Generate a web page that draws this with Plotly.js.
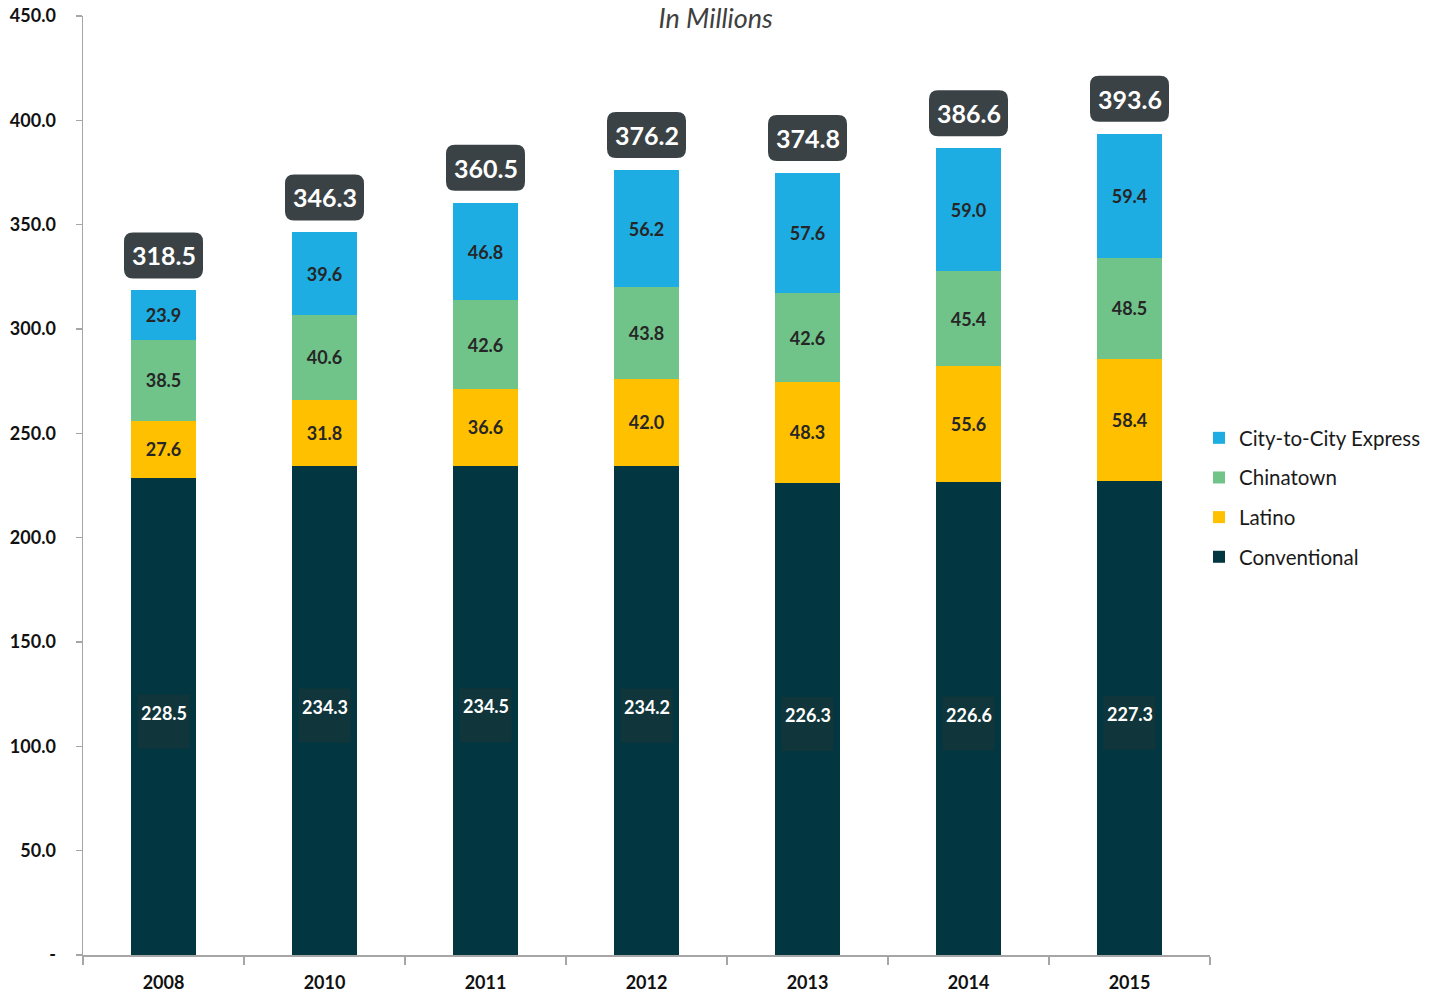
<!DOCTYPE html>
<html>
<head>
<meta charset="utf-8">
<script src="https://cdn.plot.ly/plotly-3.0.1.min.js"></script>
<style>html,body{margin:0;padding:0;background:#fff;}#chart{width:1440px;height:993px;}</style>
</head>
<body>
<div id="chart"></div>
<script>
const years = ['2008', '2010', '2011', '2012', '2013', '2014', '2015'];
const conventional = [228.5, 234.3, 234.5, 234.2, 226.3, 226.6, 227.3];
const latino = [27.6, 31.8, 36.6, 42.0, 48.3, 55.6, 58.4];
const chinatown = [38.5, 40.6, 42.6, 43.8, 42.6, 45.4, 48.5];
const cityToCity = [23.9, 39.6, 46.8, 56.2, 57.6, 59.0, 59.4];
const totals = [318.5, 346.3, 360.5, 376.2, 374.8, 386.6, 393.6];
const yTickVals = [0, 50, 100, 150, 200, 250, 300, 350, 400, 450];
const yTickText = ['-', '50.0', '100.0', '150.0', '200.0', '250.0', '300.0', '350.0', '400.0', '450.0'];

const FONT = 'Lato, "Open Sans", sans-serif';
const segFont = {family: FONT, size: 18, color: '#262626', weight: 'bold'};

function seg(name, vals, color, showText, rank) {
  return {
    type: 'bar', name: name, x: years, y: vals, legendgroup: name, legendrank: rank,
    marker: {color: color, line: {width: 0}},
    text: showText ? vals.map(v => v.toFixed(1)) : undefined,
    textposition: showText ? 'inside' : 'none',
    insidetextanchor: 'middle',
    textfont: segFont, insidetextfont: segFont,
    constraintext: 'none',
    hoverinfo: 'skip'
  };
}

const data = [
  seg('Conventional', conventional, '#023641', false, 4),
  seg('Latino', latino, '#FFC000', true, 3),
  seg('Chinatown', chinatown, '#70C48A', true, 2),
  seg('City-to-City Express', cityToCity, '#1DADE3', true, 1)
];

function roundRect(x0, x1, y0, y1, r) {
  return `M ${x0+r},${y0} L ${x1-r},${y0} Q ${x1},${y0} ${x1},${y0+r} L ${x1},${y1-r} Q ${x1},${y1} ${x1-r},${y1} L ${x0+r},${y1} Q ${x0},${y1} ${x0},${y1-r} L ${x0},${y0+r} Q ${x0},${y0} ${x0+r},${y0} Z`;
}

const annotations = [];
const shapes = [];
const totalBox = roundRect(-39.5, 39.5, 12, 58, 9);
const convBox = `M -26,-32 L 26,-32 L 26,22 L -26,22 Z`;
years.forEach((yr, i) => {
  shapes.push({
    type: 'path', xref: 'x', yref: 'y', xsizemode: 'pixel', ysizemode: 'pixel',
    xanchor: i, yanchor: totals[i], path: totalBox,
    fillcolor: '#3A4245', line: {width: 0}, layer: 'above'
  });
  shapes.push({
    type: 'path', xref: 'x', yref: 'y', xsizemode: 'pixel', ysizemode: 'pixel',
    xanchor: i, yanchor: conventional[i] / 2, path: convBox,
    fillcolor: '#10353B', line: {width: 0}, layer: 'above'
  });
  annotations.push({
    x: i, y: totals[i], xref: 'x', yref: 'y', yshift: 35,
    text: totals[i].toFixed(1), showarrow: false,
    font: {family: FONT, size: 25, color: '#ffffff', weight: 'bold'},
    xanchor: 'center', yanchor: 'middle'
  });
  annotations.push({
    x: i, y: conventional[i] / 2, xref: 'x', yref: 'y', yshift: 4,
    text: conventional[i].toFixed(1), showarrow: false,
    font: {family: FONT, size: 18, color: '#ffffff', weight: 'bold'},
    xanchor: 'center', yanchor: 'middle'
  });
});

const layout = {
  width: 1440, height: 993,
  margin: {l: 83, r: 230, t: 16, b: 38, pad: 0, autoexpand: false},
  paper_bgcolor: '#ffffff', plot_bgcolor: '#ffffff',
  barmode: 'stack', bargap: 0.596,
  showlegend: true,
  title: {
    text: 'In Millions', x: 0.497, xanchor: 'center', xref: 'container',
    y: 1 - 19 / 993, yanchor: 'middle', yref: 'container',
    font: {family: FONT, size: 27, color: '#404040', style: 'italic'}
  },
  legend: {
    traceorder: 'grouped', xref: 'paper', xanchor: 'left', yanchor: 'top',
    x: 1.0 + (1199 - 1210) / (1210 - 83),
    y: 1 - (418 - 16) / (955 - 16),
    font: {family: FONT, size: 20.5, color: '#1a1a1a'},
    itemwidth: 30, tracegroupgap: 10,
    bgcolor: 'rgba(0,0,0,0)'
  },
  xaxis: {
    type: 'category', range: [-0.5, 6.5], showgrid: false, zeroline: false,
    showline: true, linecolor: '#a6a6a6', linewidth: 1.5,
    ticks: 'outside', tickson: 'boundaries', ticklen: 8, tickcolor: '#a6a6a6', tickwidth: 1.5,
    ticklabelstandoff: 11,
    tickfont: {family: FONT, size: 18, color: '#111', weight: 'bold'},
    fixedrange: true
  },
  yaxis: {
    range: [0, 450], showgrid: false, zeroline: false,
    showline: true, linecolor: '#a6a6a6', linewidth: 1.5,
    ticks: 'outside', ticklen: 6, tickcolor: '#a6a6a6', tickwidth: 1.5,
    tickvals: yTickVals, ticktext: yTickText, ticklabelstandoff: 16,
    tickfont: {family: FONT, size: 18, color: '#111', weight: 'bold'},
    fixedrange: true
  },
  shapes: shapes,
  annotations: annotations
};

Plotly.newPlot('chart', data, layout, {displayModeBar: false, staticPlot: true});
</script>
</body>
</html>
